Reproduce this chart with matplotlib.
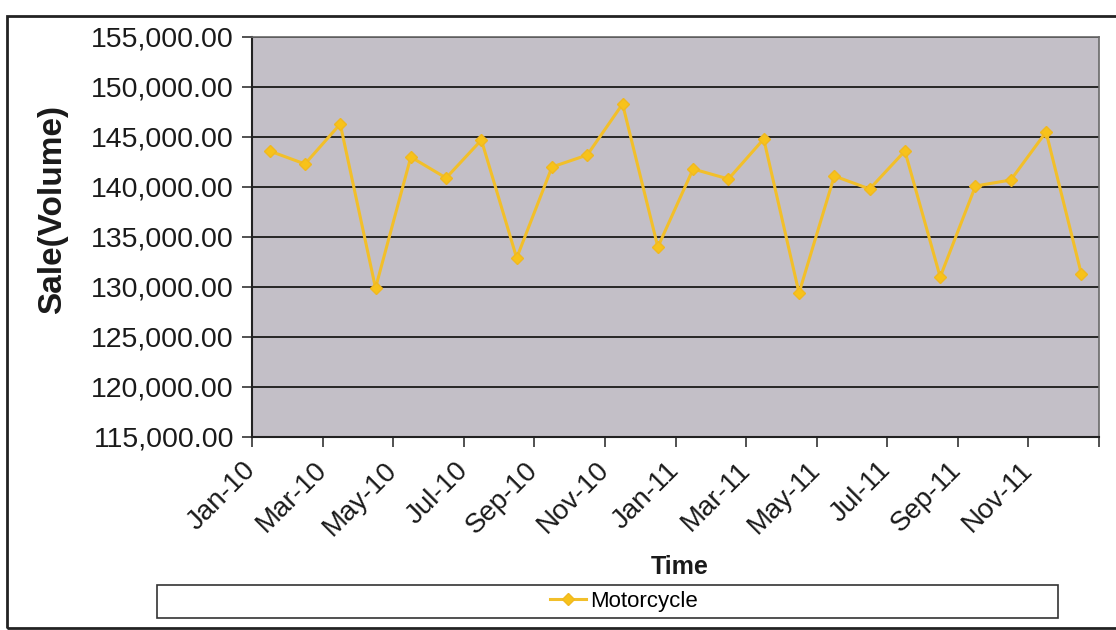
import matplotlib
matplotlib.use("Agg")
import matplotlib.pyplot as plt
from matplotlib.patches import Rectangle
from matplotlib.ticker import FuncFormatter, MultipleLocator

# ── Monthly motorcycle sales, Jan-10 .. Dec-11 ──
months = ["Jan-10", "Feb-10", "Mar-10", "Apr-10", "May-10", "Jun-10",
          "Jul-10", "Aug-10", "Sep-10", "Oct-10", "Nov-10", "Dec-10",
          "Jan-11", "Feb-11", "Mar-11", "Apr-11", "May-11", "Jun-11",
          "Jul-11", "Aug-11", "Sep-11", "Oct-11", "Nov-11", "Dec-11"]
motorcycle = [143600, 142300, 146300, 129900, 143000, 140900,
              144700, 132900, 142000, 143200, 148300, 134000,
              141800, 140800, 144800, 129400, 141100, 139800,
              143600, 131000, 140100, 140700, 145500, 131300]

plt.rcParams["font.family"] = ["Liberation Sans", "DejaVu Sans"]

W, H = 1116, 630
fig = plt.figure(figsize=(W / 100, H / 100), dpi=100)
fig.patch.set_facecolor("white")

# chart frame (runs off the right edge)
fig.patches.append(Rectangle((7 / W, 2 / H), 1.2, (628 - 16) / H,
                             transform=fig.transFigure, fill=False,
                             edgecolor="#222222", linewidth=2, clip_on=False))

x0, x1, y0, y1 = 252, 1099, 37, 437
ax = fig.add_axes([x0 / W, 1 - y1 / H, (x1 - x0) / W, (y1 - y0) / H])
ax.set_facecolor("#c3bfc7")

xs = list(range(len(months)))
ax.plot(xs, motorcycle, color="#f2bf2a", linewidth=2.2, marker="D",
        markersize=6, markerfacecolor="#f7c21a", markeredgecolor="#f0b820",
        label="Motorcycle", zorder=3)

ax.set_xlim(-0.5, len(months) - 0.5)
ax.set_ylim(115000, 155000)
ax.yaxis.set_major_locator(MultipleLocator(5000))
ax.yaxis.set_major_formatter(FuncFormatter(lambda v, p: f"{v:,.2f}"))
ax.yaxis.grid(True, color="#262626", linewidth=1.4)
ax.set_axisbelow(True)

# tick marks on category boundaries, labels every other month
ax.set_xticks([i - 0.5 for i in range(0, len(months) + 1, 2)])
ax.set_xticklabels([])
for i in range(0, len(months), 2):
    ax.annotate(months[i], xy=(i - 0.5, 0), xycoords=("data", "axes fraction"),
                xytext=(0, -21), textcoords="offset points",
                rotation=45, rotation_mode="anchor", ha="right", va="center",
                fontsize=20, color="#1a1a1a")

ax.tick_params(axis="both", direction="out", length=7, width=1.2, color="#333333")
ax.tick_params(axis="y", labelsize=20.5, labelcolor="#1a1a1a", pad=6)

for side in ("left", "bottom"):
    ax.spines[side].set_color("#222222")
    ax.spines[side].set_linewidth(1.5)
for side in ("top", "right"):
    ax.spines[side].set_color("#6a6a6a")
    ax.spines[side].set_linewidth(1.2)

fig.text(53 / W, 1 - 210 / H, "Sale(Volume)", rotation=90, ha="center",
         va="center", fontsize=24, fontweight="bold", color="#1a1a1a")
fig.text(680 / W, 1 - 567 / H, "Time", ha="center", va="center",
         fontsize=18, fontweight="bold", color="#1a1a1a")

# legend strip under the axis title
fig.patches.append(Rectangle((157 / W, 1 - 618 / H), (1058 - 157) / W, 33 / H,
                             transform=fig.transFigure, fill=False,
                             edgecolor="#333333", linewidth=1.2))
fig.legend(loc="center", bbox_to_anchor=(624 / W, 1 - 601 / H),
           frameon=False, fontsize=16, handlelength=1.6, handletextpad=0.2,
           borderpad=0)

fig.savefig("out.png", dpi=100)
